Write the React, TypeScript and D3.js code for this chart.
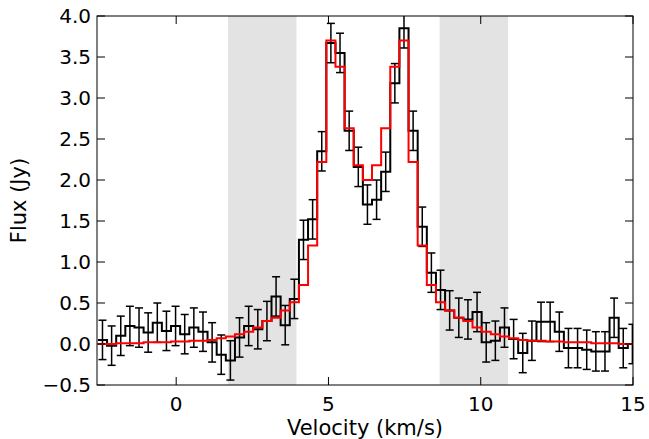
import React from 'react'
import * as d3 from 'd3'

const binWidth = 0.3
const firstCenter = -2.42
const fluxValues = [0.05, -0.02, 0.1, 0.22, 0.2, 0.14, 0.26, 0.16, 0.22, 0.12, 0.2, 0.15, 0.02, -0.13, -0.2, 0.08, 0.22, 0.18, 0.28, 0.58, 0.23, 0.55, 1.27, 1.52, 2.35, 3.67, 3.55, 2.6, 2.16, 1.7, 1.76, 2.1, 3.18, 3.85, 2.6, 1.43, 0.87, 0.66, 0.41, 0.32, 0.3, 0.39, 0.02, 0.04, 0.2, 0.06, -0.11, 0.04, 0.27, 0.27, 0.15, -0.05, -0.05, -0.07, -0.09, -0.09, 0.32, -0.05, 0.0]
const modelValues = [0.0, 0.0, 0.01, 0.01, 0.01, 0.02, 0.02, 0.02, 0.03, 0.03, 0.04, 0.04, 0.05, 0.07, 0.09, 0.12, 0.15, 0.2, 0.28, 0.32, 0.41, 0.51, 0.72, 1.2, 2.22, 3.7, 3.38, 2.63, 2.18, 2.0, 2.18, 2.63, 3.38, 3.7, 2.22, 1.2, 0.72, 0.51, 0.41, 0.32, 0.28, 0.2, 0.15, 0.12, 0.09, 0.07, 0.05, 0.04, 0.04, 0.03, 0.03, 0.02, 0.02, 0.02, 0.01, 0.01, 0.01, 0.0, 0.0]
const errorSize = 0.24
const bands = [[1.7, 3.95], [8.65, 10.9]]
const xTicks = [0, 5, 10, 15]
const yTicks = [-0.5, 0, 0.5, 1, 1.5, 2, 2.5, 3, 3.5, 4]

const W = 649, H = 439
const mL = 97, mR = 16, mT = 16, mB = 54

export default function App() {
  const x = d3.scaleLinear().domain([-2.6, 15]).range([mL, W - mR])
  const y = d3.scaleLinear().domain([-0.5, 4]).range([H - mB, mT])
  const centers = fluxValues.map((_, i) => firstCenter + i * binWidth)

  const stepPath = (vals: number[]) => {
    const pts: [number, number][] = []
    vals.forEach((v, i) => {
      pts.push([centers[i] - binWidth / 2, v])
      pts.push([centers[i] + binWidth / 2, v])
    })
    return d3.line<[number, number]>().x(d => x(d[0])).y(d => y(d[1]))(pts) || ''
  }

  const font = 'DejaVu Sans, sans-serif'
  return (
    <div style={{ position: 'fixed', left: 0, top: 0 }}>
      <svg width={W} height={H} style={{ display: 'block' }} fontFamily={font}>
        <rect width={W} height={H} fill="white" />
        <defs>
          <clipPath id="plot">
            <rect x={mL} y={mT} width={W - mL - mR} height={H - mT - mB} />
          </clipPath>
        </defs>
        <g clipPath="url(#plot)">
          {bands.map((b, i) => (
            <rect key={i} x={x(b[0])} y={mT} width={x(b[1]) - x(b[0])} height={H - mT - mB} fill="#e3e3e3" />
          ))}
          {centers.map((c, i) => (
            <g key={i} stroke="black" strokeWidth={1.5}>
              <line x1={x(c)} x2={x(c)} y1={y(fluxValues[i] - errorSize)} y2={y(fluxValues[i] + errorSize)} />
              <line x1={x(c) - 4} x2={x(c) + 4} y1={y(fluxValues[i] - errorSize)} y2={y(fluxValues[i] - errorSize)} />
              <line x1={x(c) - 4} x2={x(c) + 4} y1={y(fluxValues[i] + errorSize)} y2={y(fluxValues[i] + errorSize)} />
            </g>
          ))}
          <path d={stepPath(fluxValues)} fill="none" stroke="black" strokeWidth={2} />
          <path d={stepPath(modelValues)} fill="none" stroke="red" strokeWidth={2} />
        </g>
        <rect x={mL} y={mT} width={W - mL - mR} height={H - mT - mB} fill="none" stroke="black" strokeWidth={1} />
        {xTicks.map(t => (
          <g key={t}>
            <line x1={x(t)} x2={x(t)} y1={H - mB} y2={H - mB - 8} stroke="black" />
            <line x1={x(t)} x2={x(t)} y1={mT} y2={mT + 8} stroke="black" />
            <text x={x(t)} y={H - mB + 26} textAnchor="middle" fontSize={20}>{t}</text>
          </g>
        ))}
        {yTicks.map(t => (
          <g key={t}>
            <line x1={mL} x2={mL + 8} y1={y(t)} y2={y(t)} stroke="black" />
            <line x1={W - mR} x2={W - mR - 8} y1={y(t)} y2={y(t)} stroke="black" />
            <text x={mL - 6} y={y(t) + 7} textAnchor="end" fontSize={20}>{t < 0 ? '\u2212' + Math.abs(t).toFixed(1) : t.toFixed(1)}</text>
          </g>
        ))}
        <text x={(mL + W - mR) / 2} y={H - 4} textAnchor="middle" fontSize={21}>Velocity (km/s)</text>
        <text transform={`translate(26,${(mT + H - mB) / 2}) rotate(-90)`} textAnchor="middle" fontSize={21}>Flux (Jy)</text>
      </svg>
    </div>
  )
}
